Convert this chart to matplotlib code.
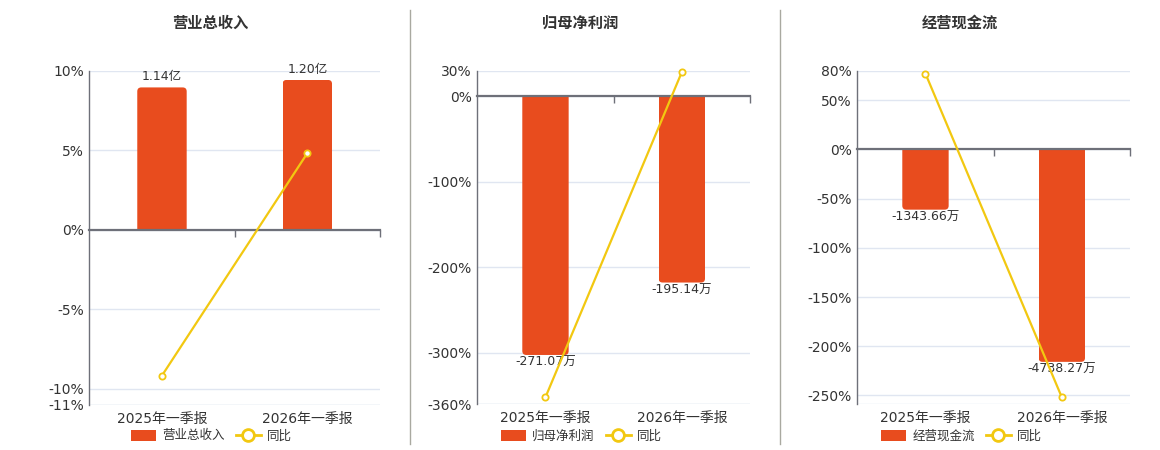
import matplotlib
matplotlib.use('Agg')
import matplotlib.pyplot as plt
from matplotlib.patches import FancyBboxPatch, Patch
from matplotlib.lines import Line2D

# ---------------- data ----------------
categories = ['2025年一季报', '2026年一季报']
titles = ['营业总收入', '归母净利润', '经营现金流']
yoy_name = '同比'

revenue = [1.14, 1.20]                 # 亿
revenue_labels = ['1.14亿', '1.20亿']
revenue_yoy = [-9.18, 4.81]            # %

profit = [-271.07, -195.14]            # 万
profit_labels = ['-271.07万', '-195.14万']
profit_yoy = [-351.7, 28.4]            # %

cash = [-1343.66, -4738.27]            # 万
cash_labels = ['-1343.66万', '-4738.27万']
cash_yoy = [77.0, -251.9]              # %

pct_ticks = [[10, 5, 0, -5, -10, -11],
             [30, 0, -100, -200, -300, -360],
             [80, 50, 0, -50, -100, -150, -200, -250]]
pct_limits = [(-11, 10), (-360, 30), (-259, 80)]
bar_per_pct = [0.1274, 0.8966, 21.95]  # bar-axis units per 1 % (axis alignment)

# ---------------- style ----------------
W, H = 1160, 450
BAR_C = '#E84C1E'
LINE_C = '#F2C811'
AXIS_C = '#6E7079'
GRID_C = '#E0E6F1'
TXT_C = '#333333'
NUM_FONT = ['DejaVu Sans', 'Noto Sans CJK SC']
CJK_FONT = ['Noto Sans CJK SC', 'DejaVu Sans']

fig = plt.figure(figsize=(W / 100, H / 100), dpi=100)
fig.patch.set_facecolor('white')

# pixel boxes: left, right, top, bottom
boxes = [(89.3, 380, 70.7, 404.5), (477.3, 750, 70.7, 404.3), (857.3, 1130, 70.7, 404.3)]
centers = [210, 580, 960]

panels = [(revenue, revenue_labels, revenue_yoy),
          (profit, profit_labels, profit_yoy),
          (cash, cash_labels, cash_yoy)]

xs = list(range(len(categories)))

for i, ((vals, labs, yoy), (l, r, t, b)) in enumerate(zip(panels, boxes)):
    ax = fig.add_axes([l / W, 1 - b / H, (r - l) / W, (b - t) / H])
    axb = ax.twinx()
    ax.set_zorder(axb.get_zorder() + 1)
    ax.patch.set_visible(False)

    ymin, ymax = pct_limits[i]
    k = bar_per_pct[i]
    ax.set_xlim(-0.5, len(categories) - 0.5)
    axb.set_xlim(-0.5, len(categories) - 0.5)
    ax.set_ylim(ymin, ymax)
    axb.set_ylim(ymin * k, ymax * k)

    # grid on bar axis (below bars)
    axb.set_yticks([tv * k for tv in pct_ticks[i]] + [ymin * k])
    axb.grid(axis='y', color=GRID_C, lw=1)
    axb.set_axisbelow(True)
    axb.tick_params(axis='y', right=False, labelright=False)
    for s in axb.spines.values():
        s.set_visible(False)

    # bars with rounded outer corners (rounded patch clipped to the bar rectangle)
    width = 0.34
    bars = axb.bar(xs, vals, width=width, color=BAR_C, zorder=2, linewidth=0)
    xpp = (len(categories)) / (r - l)
    ypp = (ymax - ymin) * k / (b - t)
    rad = 4
    for rect, v in zip(bars, vals):
        x0 = rect.get_x()
        ext = rad * 2 * ypp
        if v >= 0:
            y0, h = -ext, v + ext
        else:
            y0, h = v, -v + ext
        rp = FancyBboxPatch((x0, y0), width, h,
                            boxstyle=f"round,pad=0,rounding_size={rad * xpp}",
                            mutation_aspect=ypp / xpp,
                            facecolor=BAR_C, edgecolor='none', zorder=3)
        axb.add_patch(rp)
        rp.set_clip_path(rect)
        rect.set_visible(False)

    for x, v, lab in zip(xs, vals, labs):
        if v >= 0:
            axb.annotate(lab, (x, v), xytext=(0, 3), textcoords='offset points',
                         ha='center', va='bottom', fontsize=9, color=TXT_C,
                         family=NUM_FONT, zorder=4)
        else:
            axb.annotate(lab, (x, v), xytext=(0, -1), textcoords='offset points',
                         ha='center', va='top', fontsize=9, color=TXT_C,
                         family=NUM_FONT, zorder=4)

    # yoy line
    ax.plot(xs, yoy, color=LINE_C, lw=1.6, marker='o', ms=4.5, mfc='white',
            mec=LINE_C, mew=1.3, zorder=5, clip_on=False)

    # axes styling
    ax.set_yticks(pct_ticks[i])
    ax.set_yticklabels([f'{tv}%' for tv in pct_ticks[i]], family=NUM_FONT,
                       fontsize=10, color=TXT_C)
    ax.tick_params(axis='y', length=0, pad=4)
    ax.set_xticks(xs)
    ax.set_xticklabels(categories, family=NUM_FONT, fontsize=10, color=TXT_C)
    ax.tick_params(axis='x', length=0, pad=5)
    for s in ['top', 'right', 'bottom']:
        ax.spines[s].set_visible(False)
    ax.spines['left'].set_color(AXIS_C)
    ax.spines['left'].set_linewidth(1)

    # zero axis line with boundary ticks (pointing down)
    frac = (0 - ymin) / (ymax - ymin)
    sec = ax.secondary_xaxis(frac)
    sec.set_alignment('bottom')
    sec.set_xticks([0.5, 1.5])
    sec.set_xticklabels([])
    sec.tick_params(axis='x', direction='out', length=5, width=1, color=AXIS_C)
    for s in sec.spines.values():
        s.set_color(AXIS_C)
        s.set_linewidth(1.6)

    # title
    fig.text(centers[i] / W, 1 - 23 / H, titles[i], ha='center', va='center',
             fontsize=11, fontweight='bold', family=CJK_FONT, color=TXT_C)

    # legend
    handles = [Patch(facecolor=BAR_C, edgecolor='none'),
               Line2D([0], [0], color=LINE_C, lw=2, marker='o', ms=8.5,
                      mfc='white', mec=LINE_C, mew=2)]
    leg = fig.legend(handles, [titles[i], yoy_name], loc='center',
                     bbox_to_anchor=((centers[i] + 1.5) / W, 1 - 436 / H), ncol=2,
                     frameon=False, handlelength=2.0, handleheight=1.0,
                     handletextpad=0.5, columnspacing=0.9, borderpad=0,
                     prop={'family': CJK_FONT, 'size': 9})
    for txt in leg.get_texts():
        txt.set_color(TXT_C)

# separators
for xp in (410, 780):
    fig.add_artist(Line2D([xp / W, xp / W], [1 - 10 / H, 1 - 444 / H],
                          color='#A9A9A0', lw=1))

fig.savefig('out.png', dpi=100, facecolor='white')
